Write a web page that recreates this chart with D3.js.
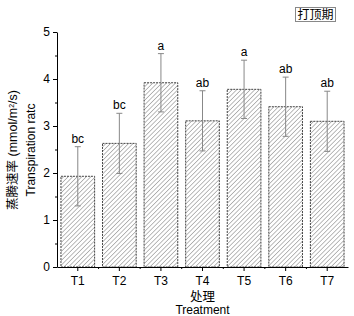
<!DOCTYPE html>
<html>
<head>
<meta charset="utf-8">
<script src="https://cdn.jsdelivr.net/npm/d3@7"></script>
<style>
  body { margin: 0; background: #fff; }
  text { font-family: "Liberation Sans", Arial, "Noto Sans CJK SC", sans-serif; }
</style>
</head>
<body>
<svg id="chart" width="354" height="316"></svg>
<script>
// values
const treatments = ["T1", "T2", "T3", "T4", "T5", "T6", "T7"];
const means = [1.93, 2.63, 3.92, 3.11, 3.78, 3.41, 3.10];
const errors = [0.63, 0.64, 0.62, 0.64, 0.62, 0.63, 0.64];
const letters = ["bc", "bc", "a", "ab", "a", "ab", "ab"];
const yTicks = [0, 1, 2, 3, 4, 5];

const width = 354, height = 316;
const margin = { top: 32, right: 6, bottom: 49, left: 57 };

const svg = d3.select("#chart");

// hatch pattern for the bars
const defs = svg.append("defs");
defs.append("pattern")
  .attr("id", "hatch")
  .attr("patternUnits", "userSpaceOnUse")
  .attr("width", 3.2)
  .attr("height", 3.2)
  .attr("patternTransform", "rotate(45)")
  .append("line")
  .attr("x1", 0).attr("y1", 0)
  .attr("x2", 0).attr("y2", 3.2)
  .attr("stroke", "#777")
  .attr("stroke-width", 1);

const x = d3.scaleBand()
  .domain(treatments)
  .range([margin.left, width - margin.right])
  .paddingInner(0.19)
  .paddingOuter(0.095);

const y = d3.scaleLinear()
  .domain([0, 5])
  .range([height - margin.bottom, margin.top]);

const data = treatments.map((t, i) => ({ t: t, m: means[i], e: errors[i], l: letters[i] }));

// bars
svg.selectAll("rect.bar")
  .data(data)
  .enter()
  .append("rect")
  .attr("class", "bar")
  .attr("x", d => x(d.t))
  .attr("y", d => y(d.m))
  .attr("width", x.bandwidth())
  .attr("height", d => y(0) - y(d.m))
  .attr("fill", "url(#hatch)")
  .attr("stroke", "#444")
  .attr("stroke-width", 1)
  .attr("stroke-dasharray", "2,1");

// error bars
const eb = svg.selectAll("g.err")
  .data(data)
  .enter()
  .append("g")
  .attr("class", "err")
  .attr("stroke", "#888")
  .attr("stroke-width", 1);

eb.append("line")
  .attr("x1", d => x(d.t) + x.bandwidth() / 2)
  .attr("x2", d => x(d.t) + x.bandwidth() / 2)
  .attr("y1", d => y(d.m - d.e))
  .attr("y2", d => y(d.m + d.e));

eb.append("line")
  .attr("x1", d => x(d.t) + x.bandwidth() / 2 - 3)
  .attr("x2", d => x(d.t) + x.bandwidth() / 2 + 3)
  .attr("y1", d => y(d.m + d.e))
  .attr("y2", d => y(d.m + d.e));

eb.append("line")
  .attr("x1", d => x(d.t) + x.bandwidth() / 2 - 3)
  .attr("x2", d => x(d.t) + x.bandwidth() / 2 + 3)
  .attr("y1", d => y(d.m - d.e))
  .attr("y2", d => y(d.m - d.e));

// significance letters
svg.selectAll("text.letter")
  .data(data)
  .enter()
  .append("text")
  .attr("class", "letter")
  .attr("x", d => x(d.t) + x.bandwidth() / 2)
  .attr("y", d => y(d.m + d.e) - 4)
  .attr("text-anchor", "middle")
  .style("font-size", "12px")
  .text(d => d.l);

// y axis
const yAxis = svg.append("g")
  .attr("transform", "translate(" + margin.left + ",0)")
  .call(d3.axisLeft(y).tickValues(yTicks).tickSize(4).tickSizeOuter(0).tickFormat(d3.format("d")));
yAxis.selectAll("text").style("font-size", "12px").attr("fill", "#000");
yAxis.select(".domain").attr("stroke", "#000");

svg.append("g")
  .attr("transform", "translate(" + margin.left + ",0)")
  .call(d3.axisLeft(y).tickValues(d3.range(0.5, 5, 1)).tickSize(2).tickFormat(""))
  .call(g => g.select(".domain").remove());

// x axis
const xAxis = svg.append("g")
  .attr("transform", "translate(0," + y(0) + ")")
  .call(d3.axisBottom(x).tickSize(4).tickSizeOuter(0).tickPadding(5));
xAxis.selectAll("text").style("font-size", "12px").attr("fill", "#000");
xAxis.select(".domain").attr("stroke", "#000");

// minor ticks between categories
svg.append("g")
  .selectAll("line")
  .data(treatments.slice(1))
  .enter()
  .append("line")
  .attr("x1", d => x(d) - x.step() * x.paddingInner() / 2)
  .attr("x2", d => x(d) - x.step() * x.paddingInner() / 2)
  .attr("y1", y(0))
  .attr("y2", y(0) + 2)
  .attr("stroke", "#000");

// axis titles
svg.append("text")
  .attr("x", (margin.left + width - margin.right) / 2)
  .attr("y", 301)
  .attr("text-anchor", "middle")
  .style("font-size", "12.5px")
  .text("处理");
svg.append("text")
  .attr("x", (margin.left + width - margin.right) / 2)
  .attr("y", 314)
  .attr("text-anchor", "middle")
  .style("font-size", "12px")
  .text("Treatment");

svg.append("text")
  .attr("transform", "translate(17,150) rotate(-90)")
  .attr("text-anchor", "middle")
  .style("font-size", "12.5px")
  .html("蒸腾速率 (mmol/m<tspan baseline-shift='super' font-size='7px'>2</tspan>/s)");
svg.append("text")
  .attr("transform", "translate(35,150) rotate(-90)")
  .attr("text-anchor", "middle")
  .style("font-size", "12px")
  .text("Transpiration ratc");

// period label box
svg.append("rect")
  .attr("x", 295.5)
  .attr("y", 7.5)
  .attr("width", 40)
  .attr("height", 14)
  .attr("fill", "#fff")
  .attr("stroke", "#888");
svg.append("text")
  .attr("x", 315.5)
  .attr("y", 19.3)
  .attr("text-anchor", "middle")
  .style("font-size", "12px")
  .text("打顶期");
</script>
</body>
</html>
